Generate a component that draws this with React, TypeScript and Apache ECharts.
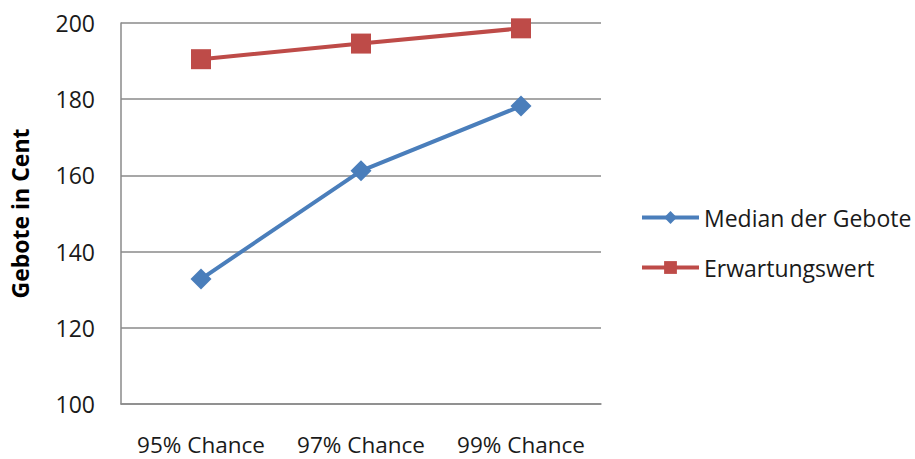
import React, { useEffect, useRef } from "react";
import * as echarts from "echarts";

const categories = ["95% Chance", "97% Chance", "99% Chance"];
const medianValues = [132.8, 161.2, 178.2];
const expectedValues = [190.5, 194.6, 198.6];
const seriesNames = ["Median der Gebote", "Erwartungswert"];
const yAxisTitle = "Gebote in Cent";

const FONT = "'Open Sans', 'Liberation Sans', sans-serif";

export default function App() {
  const ref = useRef<HTMLDivElement>(null);
  useEffect(() => {
    if (!ref.current) return;
    const chart = echarts.init(ref.current, null, { renderer: "svg" });
    chart.setOption({
      animation: false,
      backgroundColor: "#ffffff",
      textStyle: { fontFamily: FONT },
      grid: { left: 121, top: 23, right: 314, bottom: 55, containLabel: false, outerBoundsMode: "none" },
      legend: {
        orient: "vertical",
        left: 640,
        top: 206,
        padding: 0,
        itemGap: 27,
        itemWidth: 57,
        itemHeight: 16,
        lineStyle: { width: 4 },
        textStyle: { fontSize: 23, color: "#1a1a1a", fontFamily: FONT },
        data: seriesNames,
      },
      xAxis: {
        type: "category",
        data: categories,
        boundaryGap: true,
        axisLine: { show: true, lineStyle: { color: "#8a8a8a", width: 1.5 } },
        axisTick: { show: false },
        axisLabel: {
          fontSize: 22.5,
          lineHeight: 20,
          color: "#1a1a1a",
          margin: 30,
          fontFamily: FONT,
          interval: 0,
          hideOverlap: false,
        },
      },
      yAxis: {
        type: "value",
        min: 100,
        max: 200,
        interval: 20,
        name: yAxisTitle,
        nameLocation: "middle",
        nameGap: 90,
        nameRotate: 90,
        nameTextStyle: { fontSize: 23, fontWeight: "bold", color: "#000", fontFamily: FONT },
        axisLine: { show: true, lineStyle: { color: "#8a8a8a", width: 1.5 } },
        axisTick: { show: false },
        axisLabel: { fontSize: 23, color: "#1a1a1a", margin: 26, fontFamily: FONT },
        splitLine: { show: true, lineStyle: { color: "#8a8a8a", width: 1.5 } },
      },
      series: [
        {
          name: seriesNames[0],
          type: "line",
          data: medianValues,
          symbol: "diamond",
          symbolSize: 21,
          lineStyle: { color: "#4a7ebb", width: 4 },
          itemStyle: { color: "#4a7ebb" },
          z: 3,
        },
        {
          name: seriesNames[1],
          type: "line",
          data: expectedValues,
          symbol: "rect",
          symbolSize: 20,
          lineStyle: { color: "#be4b48", width: 4 },
          itemStyle: { color: "#be4b48" },
          z: 3,
        },
      ],
    });
    return () => chart.dispose();
  }, []);
  return <div ref={ref} style={{ width: 915, height: 459, position: "absolute", left: 0, top: 0 }} />;
}
